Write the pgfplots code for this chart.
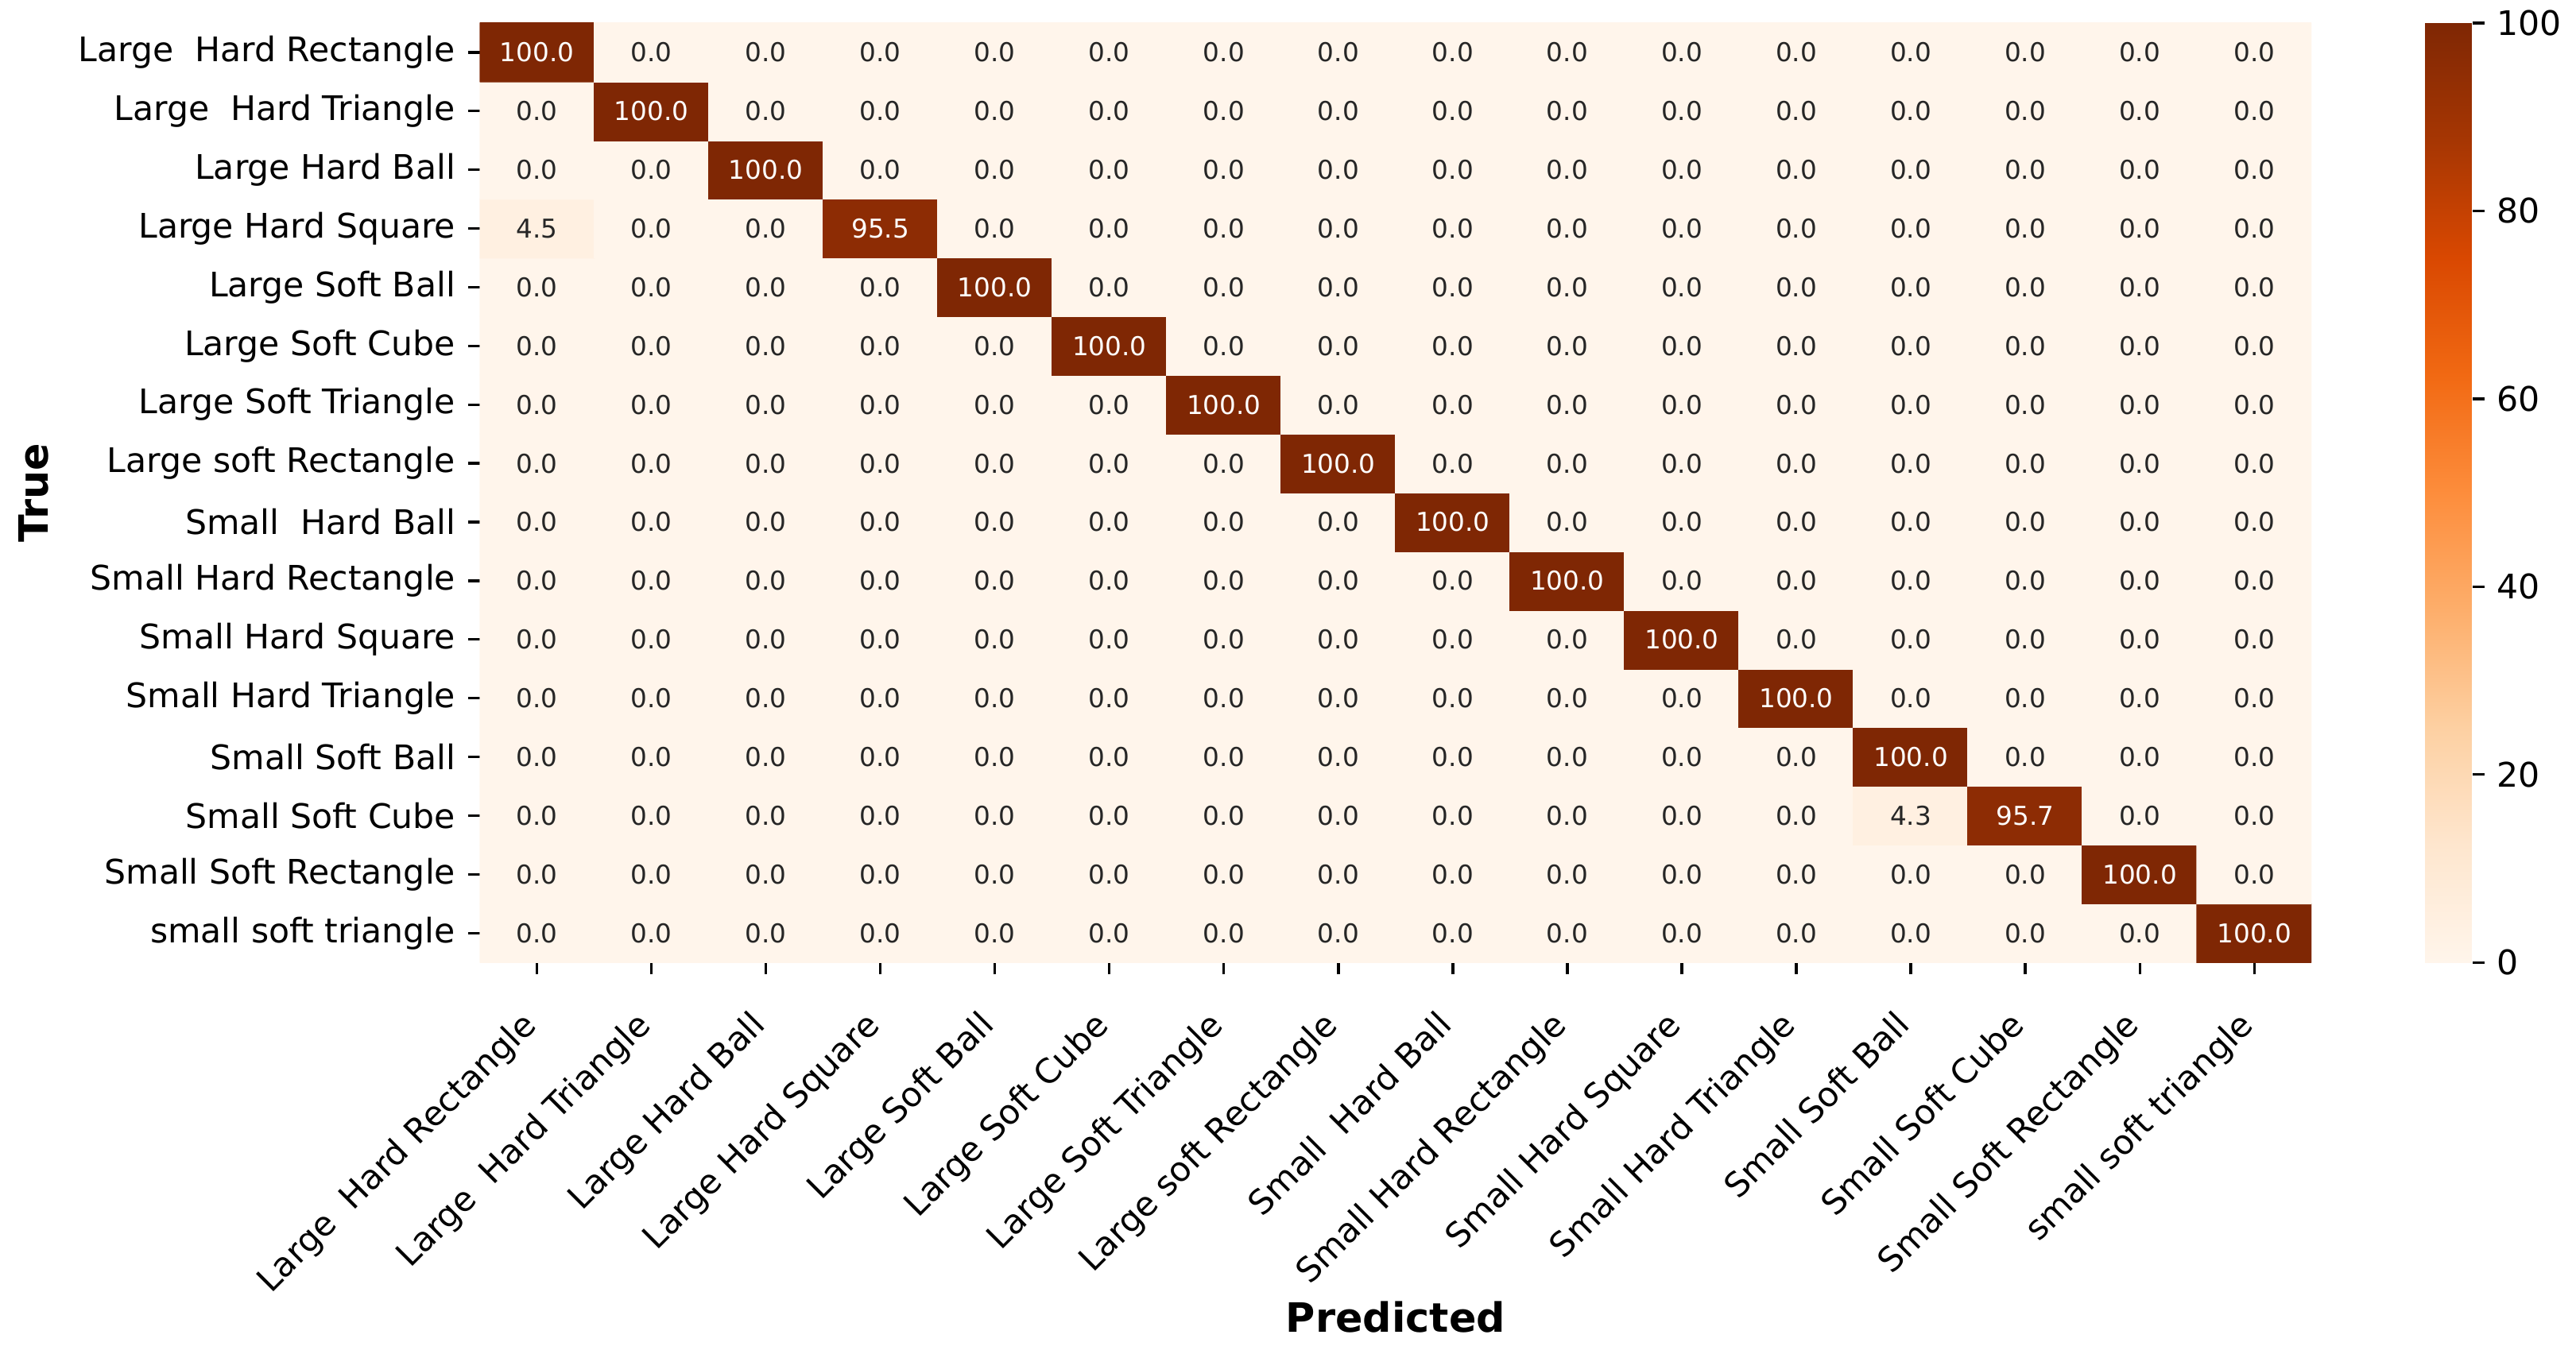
\documentclass[border=0pt]{standalone}
\usepackage{fontspec}
\setmainfont{DejaVu Sans}
\usepackage{pgfplots}
\usepackage{pgfplotstable}
\pgfplotsset{compat=1.18}
\pgfplotsset{/pgf/number format/assume math mode=true}
\definecolor{annot}{RGB}{38,38,38}

% confusion matrix in percent; y = 15 - row (row 0 = Large  Hard Rectangle)
\pgfplotstableread[row sep=\\]{
x y v \\
0 0 0\\ 1 0 0\\ 2 0 0\\ 3 0 0\\ 4 0 0\\ 5 0 0\\ 6 0 0\\ 7 0 0\\ 8 0 0\\ 9 0 0\\ 10 0 0\\ 11 0 0\\ 12 0 0\\ 13 0 0\\ 14 0 0\\ 15 0 100\\
0 1 0\\ 1 1 0\\ 2 1 0\\ 3 1 0\\ 4 1 0\\ 5 1 0\\ 6 1 0\\ 7 1 0\\ 8 1 0\\ 9 1 0\\ 10 1 0\\ 11 1 0\\ 12 1 0\\ 13 1 0\\ 14 1 100\\ 15 1 0\\
0 2 0\\ 1 2 0\\ 2 2 0\\ 3 2 0\\ 4 2 0\\ 5 2 0\\ 6 2 0\\ 7 2 0\\ 8 2 0\\ 9 2 0\\ 10 2 0\\ 11 2 0\\ 12 2 4.3\\ 13 2 95.7\\ 14 2 0\\ 15 2 0\\
0 3 0\\ 1 3 0\\ 2 3 0\\ 3 3 0\\ 4 3 0\\ 5 3 0\\ 6 3 0\\ 7 3 0\\ 8 3 0\\ 9 3 0\\ 10 3 0\\ 11 3 0\\ 12 3 100\\ 13 3 0\\ 14 3 0\\ 15 3 0\\
0 4 0\\ 1 4 0\\ 2 4 0\\ 3 4 0\\ 4 4 0\\ 5 4 0\\ 6 4 0\\ 7 4 0\\ 8 4 0\\ 9 4 0\\ 10 4 0\\ 11 4 100\\ 12 4 0\\ 13 4 0\\ 14 4 0\\ 15 4 0\\
0 5 0\\ 1 5 0\\ 2 5 0\\ 3 5 0\\ 4 5 0\\ 5 5 0\\ 6 5 0\\ 7 5 0\\ 8 5 0\\ 9 5 0\\ 10 5 100\\ 11 5 0\\ 12 5 0\\ 13 5 0\\ 14 5 0\\ 15 5 0\\
0 6 0\\ 1 6 0\\ 2 6 0\\ 3 6 0\\ 4 6 0\\ 5 6 0\\ 6 6 0\\ 7 6 0\\ 8 6 0\\ 9 6 100\\ 10 6 0\\ 11 6 0\\ 12 6 0\\ 13 6 0\\ 14 6 0\\ 15 6 0\\
0 7 0\\ 1 7 0\\ 2 7 0\\ 3 7 0\\ 4 7 0\\ 5 7 0\\ 6 7 0\\ 7 7 0\\ 8 7 100\\ 9 7 0\\ 10 7 0\\ 11 7 0\\ 12 7 0\\ 13 7 0\\ 14 7 0\\ 15 7 0\\
0 8 0\\ 1 8 0\\ 2 8 0\\ 3 8 0\\ 4 8 0\\ 5 8 0\\ 6 8 0\\ 7 8 100\\ 8 8 0\\ 9 8 0\\ 10 8 0\\ 11 8 0\\ 12 8 0\\ 13 8 0\\ 14 8 0\\ 15 8 0\\
0 9 0\\ 1 9 0\\ 2 9 0\\ 3 9 0\\ 4 9 0\\ 5 9 0\\ 6 9 100\\ 7 9 0\\ 8 9 0\\ 9 9 0\\ 10 9 0\\ 11 9 0\\ 12 9 0\\ 13 9 0\\ 14 9 0\\ 15 9 0\\
0 10 0\\ 1 10 0\\ 2 10 0\\ 3 10 0\\ 4 10 0\\ 5 10 100\\ 6 10 0\\ 7 10 0\\ 8 10 0\\ 9 10 0\\ 10 10 0\\ 11 10 0\\ 12 10 0\\ 13 10 0\\ 14 10 0\\ 15 10 0\\
0 11 0\\ 1 11 0\\ 2 11 0\\ 3 11 0\\ 4 11 100\\ 5 11 0\\ 6 11 0\\ 7 11 0\\ 8 11 0\\ 9 11 0\\ 10 11 0\\ 11 11 0\\ 12 11 0\\ 13 11 0\\ 14 11 0\\ 15 11 0\\
0 12 4.5\\ 1 12 0\\ 2 12 0\\ 3 12 95.5\\ 4 12 0\\ 5 12 0\\ 6 12 0\\ 7 12 0\\ 8 12 0\\ 9 12 0\\ 10 12 0\\ 11 12 0\\ 12 12 0\\ 13 12 0\\ 14 12 0\\ 15 12 0\\
0 13 0\\ 1 13 0\\ 2 13 100\\ 3 13 0\\ 4 13 0\\ 5 13 0\\ 6 13 0\\ 7 13 0\\ 8 13 0\\ 9 13 0\\ 10 13 0\\ 11 13 0\\ 12 13 0\\ 13 13 0\\ 14 13 0\\ 15 13 0\\
0 14 0\\ 1 14 100\\ 2 14 0\\ 3 14 0\\ 4 14 0\\ 5 14 0\\ 6 14 0\\ 7 14 0\\ 8 14 0\\ 9 14 0\\ 10 14 0\\ 11 14 0\\ 12 14 0\\ 13 14 0\\ 14 14 0\\ 15 14 0\\
0 15 100\\ 1 15 0\\ 2 15 0\\ 3 15 0\\ 4 15 0\\ 5 15 0\\ 6 15 0\\ 7 15 0\\ 8 15 0\\ 9 15 0\\ 10 15 0\\ 11 15 0\\ 12 15 0\\ 13 15 0\\ 14 15 0\\ 15 15 0\\
}\cm

\begin{document}
\begin{tikzpicture}
\useasboundingbox (-146pt,-119pt) rectangle (638pt,293pt);
\begin{axis}[
  scale only axis, width=557.5pt, height=286pt,
  xmin=-0.5, xmax=15.5, ymin=-0.5, ymax=15.5,
  enlargelimits=false,
  axis line style={draw=none},
  tick align=outside, major tick length=3.6pt,
  tick style={black, line width=0.8pt},
  xtick={0,...,15}, ytick={0,...,15},
  xtick pos=left, ytick pos=left,
  xticklabels={Large\ \ Hard Rectangle, Large\ \ Hard Triangle, Large Hard Ball, Large Hard Square,
    Large Soft Ball, Large Soft Cube, Large Soft Triangle, Large soft Rectangle,
    Small\ \ Hard Ball, Small Hard Rectangle, Small Hard Square, Small Hard Triangle,
    Small Soft Ball, Small Soft Cube, Small Soft Rectangle, small soft triangle},
  yticklabels={small soft triangle, Small Soft Rectangle, Small Soft Cube, Small Soft Ball,
    Small Hard Triangle, Small Hard Square, Small Hard Rectangle, Small\ \ Hard Ball,
    Large soft Rectangle, Large Soft Triangle, Large Soft Cube, Large Soft Ball,
    Large Hard Square, Large Hard Ball, Large\ \ Hard Triangle, Large\ \ Hard Rectangle},
  tick label style={font=\fontsize{10.3}{12}\selectfont, text=black},
  xticklabel style={rotate=45, anchor=north east, inner sep=0pt, xshift=-11pt, yshift=-3.5pt},
  yticklabel style={anchor=east, inner sep=0pt, xshift=-3.6pt},
  colormap={oranges}{rgb255(0)=(255,245,235) rgb255(1)=(254,230,206) rgb255(2)=(253,208,162)
    rgb255(3)=(253,174,107) rgb255(4)=(253,141,60) rgb255(5)=(241,105,19)
    rgb255(6)=(217,72,1) rgb255(7)=(166,54,3) rgb255(8)=(127,39,4)},
  point meta min=0, point meta max=100,
  colorbar,
  colorbar style={
    at={(parent axis.north east)}, anchor=north west, xshift=26pt,
    scale only axis, width=14.5pt, height=286pt,
    axis line style={draw=none},
    xtick=\empty,
    ytick={0,20,40,60,80,100},
    ytick pos=right, yticklabel pos=right,
    tick align=outside, major tick length=3.6pt,
    ytick style={black, line width=0.8pt},
    yticklabel style={font=\fontsize{10.3}{12}\selectfont, inner sep=0pt, anchor=west, xshift=3.6pt},
  },
  xlabel={Predicted}, ylabel={True},
  label style={font=\fontsize{12.3}{14}\selectfont\bfseries},
  xlabel style={at={(axis description cs:0.5,-0.3934)}, anchor=base},
  ylabel style={at={(axis description cs:-0.235,0.5)}, anchor=south, inner sep=0pt},
]
\addplot[matrix plot*, mesh/cols=16, point meta=explicit] table[x=x, y=y, meta=v] {\cm};
\addplot[draw=none, mark=none, point meta=explicit,
  restrict expr to domain={\thisrow{v}}{-1:50},
  nodes near coords={\pgfmathprintnumber[fixed, fixed zerofill, precision=1]{\pgfplotspointmeta}},
  nodes near coords align={center},
  every node near coord/.append style={font=\fontsize{7.9}{9}\selectfont, text=annot, inner sep=0pt}]
  table[x=x, y=y, meta=v] {\cm};
\addplot[draw=none, mark=none, point meta=explicit,
  restrict expr to domain={\thisrow{v}}{50:200},
  nodes near coords={\pgfmathprintnumber[fixed, fixed zerofill, precision=1]{\pgfplotspointmeta}},
  nodes near coords align={center},
  every node near coord/.append style={font=\fontsize{7.9}{9}\selectfont, text=white, inner sep=0pt}]
  table[x=x, y=y, meta=v] {\cm};
\end{axis}
\end{tikzpicture}
\end{document}
